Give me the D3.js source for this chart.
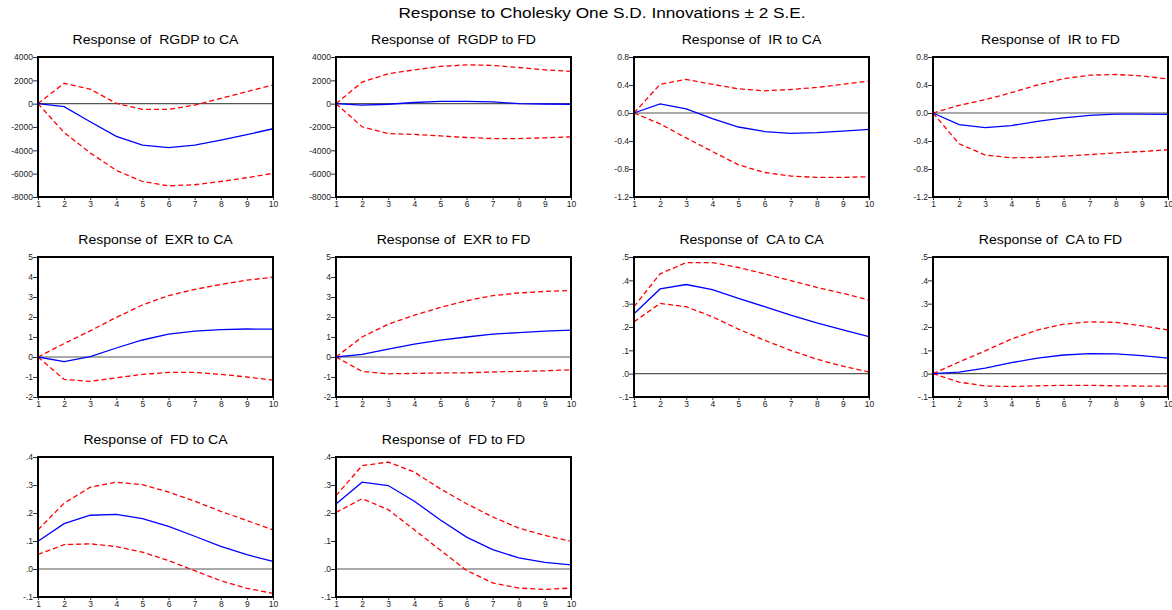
<!DOCTYPE html>
<html>
<head>
<meta charset="utf-8">
<script src="https://cdn.jsdelivr.net/npm/d3@7"></script>
<style>
body { margin: 0; background: #fff; }
text { font-family: "Liberation Sans", Arial, sans-serif; }
</style>
</head>
<body>
<script>
// periods
var periods = [1,2,3,4,5,6,7,8,9,10];

// y tick values and labels
var rgdpTicks = [4000,2000,0,-2000,-4000,-6000,-8000];
var rgdpLabels = ["4000","2000","0","-2000","-4000","-6000","-8000"];
var irTicks = [0.8,0.4,0,-0.4,-0.8,-1.2];
var irLabels = ["0.8","0.4","0.0","-0.4","-0.8","-1.2"];
var exrTicks = [5,4,3,2,1,0,-1,-2];
var exrLabels = ["5","4","3","2","1","0","-1","-2"];
var caTicks = [0.5,0.4,0.3,0.2,0.1,0,-0.1];
var caLabels = [".5",".4",".3",".2",".1",".0","-.1"];
var fdTicks = [0.4,0.3,0.2,0.1,0,-0.1];
var fdLabels = [".4",".3",".2",".1",".0","-.1"];

// responses (mid, upper band, lower band)
var rgdpCA = [0,-250,-1550,-2800,-3560,-3760,-3560,-3130,-2650,-2150];
var rgdpCA_up = [0,1750,1240,30,-490,-490,-120,460,1030,1600];
var rgdpCA_lo = [0,-2470,-4220,-5720,-6670,-7040,-6950,-6670,-6350,-5970];

var rgdpFD = [0,-120,-50,100,200,200,150,0,-30,-50];
var rgdpFD_up = [0,1850,2560,2900,3190,3330,3280,3100,2900,2760];
var rgdpFD_lo = [0,-1980,-2560,-2640,-2760,-2900,-2990,-2990,-2930,-2840];

var irCA = [0,0.13,0.06,-0.08,-0.2,-0.265,-0.29,-0.28,-0.26,-0.235];
var irCA_up = [0,0.41,0.48,0.41,0.345,0.317,0.336,0.365,0.41,0.457];
var irCA_lo = [0,-0.155,-0.356,-0.55,-0.74,-0.85,-0.9,-0.92,-0.92,-0.91];

var irFD = [0,-0.165,-0.21,-0.18,-0.12,-0.07,-0.035,-0.015,-0.015,-0.02];
var irFD_up = [0,0.11,0.19,0.29,0.4,0.49,0.54,0.55,0.53,0.485];
var irFD_lo = [0,-0.44,-0.6,-0.64,-0.635,-0.615,-0.595,-0.57,-0.55,-0.525];

var exrCA = [0,-0.23,0.02,0.45,0.85,1.14,1.29,1.37,1.4,1.39];
var exrCA_up = [0,0.67,1.31,1.98,2.6,3.07,3.38,3.63,3.84,3.99];
var exrCA_lo = [0,-1.12,-1.22,-1.04,-0.87,-0.77,-0.77,-0.87,-1.0,-1.16];

var exrFD = [0,0.13,0.39,0.64,0.84,1.0,1.14,1.22,1.29,1.34];
var exrFD_up = [0,1.0,1.64,2.09,2.48,2.81,3.07,3.2,3.28,3.32];
var exrFD_lo = [0,-0.72,-0.84,-0.82,-0.8,-0.79,-0.75,-0.72,-0.69,-0.64];

var caCA = [0.257,0.363,0.382,0.36,0.323,0.287,0.251,0.218,0.188,0.159];
var caCA_up = [0.287,0.428,0.476,0.476,0.455,0.428,0.399,0.37,0.344,0.316];
var caCA_lo = [0.222,0.301,0.287,0.244,0.191,0.143,0.1,0.062,0.032,0.007];

var caFD = [0,0.007,0.024,0.047,0.067,0.08,0.086,0.085,0.077,0.067];
var caFD_up = [0,0.05,0.098,0.148,0.187,0.212,0.222,0.22,0.205,0.187];
var caFD_lo = [0,-0.036,-0.053,-0.055,-0.052,-0.05,-0.05,-0.052,-0.053,-0.053];

var fdCA = [0.099,0.162,0.192,0.195,0.18,0.152,0.117,0.081,0.051,0.027];
var fdCA_up = [0.14,0.235,0.292,0.31,0.301,0.275,0.242,0.206,0.173,0.14];
var fdCA_lo = [0.052,0.087,0.09,0.08,0.06,0.03,-0.006,-0.042,-0.069,-0.087];

var fdFD = [0.232,0.31,0.298,0.242,0.175,0.114,0.069,0.04,0.024,0.015];
var fdFD_up = [0.262,0.369,0.382,0.346,0.286,0.233,0.186,0.146,0.12,0.099];
var fdFD_lo = [0.202,0.251,0.212,0.14,0.067,-0.005,-0.05,-0.068,-0.073,-0.068];

var panels = [
  {title:"Response of  RGDP to CA", mid:rgdpCA, up:rgdpCA_up, lo:rgdpCA_lo, ticks:rgdpTicks, labels:rgdpLabels},
  {title:"Response of  RGDP to FD", mid:rgdpFD, up:rgdpFD_up, lo:rgdpFD_lo, ticks:rgdpTicks, labels:rgdpLabels},
  {title:"Response of  IR to CA", mid:irCA, up:irCA_up, lo:irCA_lo, ticks:irTicks, labels:irLabels},
  {title:"Response of  IR to FD", mid:irFD, up:irFD_up, lo:irFD_lo, ticks:irTicks, labels:irLabels},
  {title:"Response of  EXR to CA", mid:exrCA, up:exrCA_up, lo:exrCA_lo, ticks:exrTicks, labels:exrLabels},
  {title:"Response of  EXR to FD", mid:exrFD, up:exrFD_up, lo:exrFD_lo, ticks:exrTicks, labels:exrLabels},
  {title:"Response of  CA to CA", mid:caCA, up:caCA_up, lo:caCA_lo, ticks:caTicks, labels:caLabels},
  {title:"Response of  CA to FD", mid:caFD, up:caFD_up, lo:caFD_lo, ticks:caTicks, labels:caLabels},
  {title:"Response of  FD to CA", mid:fdCA, up:fdCA_up, lo:fdCA_lo, ticks:fdTicks, labels:fdLabels},
  {title:"Response of  FD to FD", mid:fdFD, up:fdFD_up, lo:fdFD_lo, ticks:fdTicks, labels:fdLabels}
];

var W = 1172, H = 610;
var colX = [38, 336, 634, 933], rowY = [57, 257, 457];
var pw = 235, ph = 140;

var svg = d3.select("body").append("svg")
  .attr("width", W).attr("height", H);

// main title, a bit wider glyphs like the original
svg.append("text")
  .attr("transform", "translate(602,18) scale(1.15,1)")
  .attr("text-anchor", "middle")
  .style("font-size", "15px")
  .text("Response to Cholesky One S.D. Innovations \u00b1 2 S.E.");

panels.forEach(function(p, i) {
  var px = colX[i % 4], py = rowY[Math.floor(i / 4)];
  var g = svg.append("g").attr("transform", "translate(" + px + "," + py + ")");

  var x = d3.scaleLinear().domain([1, 10]).range([0, pw]);
  var y = d3.scaleLinear().domain([d3.min(p.ticks), d3.max(p.ticks)]).range([ph, 0]);

  g.append("text")
    .attr("transform", "translate(" + (pw / 2) + ",-13) scale(1.08,1)")
    .attr("text-anchor", "middle")
    .style("font-size", "13px")
    .style("white-space", "pre")
    .text(p.title);

  // y axis
  var yAxis = d3.axisLeft(y).tickValues(p.ticks).tickSize(5).tickPadding(0)
    .tickFormat(function(d, k) { return p.labels[k]; });
  var ya = g.append("g").call(yAxis);
  ya.select(".domain").remove();
  ya.selectAll("text").style("font-size", "8.5px").attr("fill", "#222");
  ya.selectAll("line").attr("stroke", "#333");

  // x axis
  var xAxis = d3.axisBottom(x).tickValues(periods).tickSize(3).tickPadding(1)
    .tickFormat(d3.format("d"));
  var xa = g.append("g").attr("transform", "translate(0," + ph + ")").call(xAxis);
  xa.select(".domain").remove();
  xa.selectAll("text").style("font-size", "8.5px").attr("fill", "#222");
  xa.selectAll("line").attr("stroke", "#333");

  // zero line
  g.append("line")
    .attr("x1", 0).attr("x2", pw)
    .attr("y1", y(0)).attr("y2", y(0))
    .attr("stroke", "#555").attr("stroke-width", 1.2);

  var line = d3.line()
    .x(function(d, k) { return x(periods[k]); })
    .y(function(d) { return y(d); });

  g.append("path").datum(p.up).attr("d", line)
    .attr("fill", "none").attr("stroke", "#ff0000")
    .attr("stroke-width", 1.3).attr("stroke-dasharray", "5,3");
  g.append("path").datum(p.lo).attr("d", line)
    .attr("fill", "none").attr("stroke", "#ff0000")
    .attr("stroke-width", 1.3).attr("stroke-dasharray", "5,3");
  g.append("path").datum(p.mid).attr("d", line)
    .attr("fill", "none").attr("stroke", "#0000ff")
    .attr("stroke-width", 1.3);

  // frame
  g.append("rect")
    .attr("x", 0).attr("y", 0).attr("width", pw).attr("height", ph)
    .attr("fill", "none").attr("stroke", "#000").attr("stroke-width", 2);
});
</script>
</body>
</html>
